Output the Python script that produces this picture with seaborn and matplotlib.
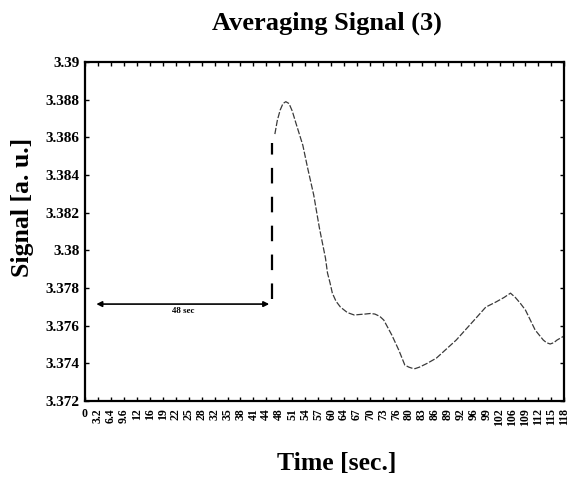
import matplotlib
matplotlib.use("Agg")
import matplotlib.pyplot as plt
import numpy as np
import pandas as pd
import seaborn as sns

# values
time_sec = [46.9, 47.5, 48.2, 48.9, 49.6, 50.4, 51.2, 52.1, 53.8, 55.0, 56.5,
            57.9, 59.4, 59.9, 60.5, 61.1, 62.0, 63.1, 64.8, 66.5, 68.0, 69.2,
            70.5, 71.6, 72.8, 73.8, 75.8, 77.5, 79.0, 80.0, 80.7, 81.5, 82.6,
            84.5, 86.8, 91.7, 96.6, 99.0, 101.5, 103.5, 105.1, 106.3, 107.5,
            108.8, 111.2, 113.2, 114.0, 114.9, 115.8, 116.6, 118.3]
signal_au = [3.38618, 3.38690, 3.38745, 3.38780, 3.38790, 3.38780, 3.38740,
             3.38676, 3.38559, 3.38437, 3.38294, 3.38119, 3.37959, 3.37880,
             3.37830, 3.37773, 3.37730, 3.37699, 3.37670, 3.37657, 3.37660,
             3.37662, 3.37665, 3.37662, 3.37650, 3.37630, 3.37550, 3.37471,
             3.37391, 3.37380, 3.37375, 3.37372, 3.37380, 3.37400, 3.37428,
             3.37524, 3.37641, 3.37699, 3.37726, 3.37750, 3.37773, 3.37750,
             3.37720, 3.37683, 3.37577, 3.37524, 3.37510, 3.37503, 3.37510,
             3.37524, 3.37545]

x_tick_labels = ["0", "3.2", "6.4", "9.6", "12", "16", "19", "22", "25", "28",
                 "32", "35", "38", "41", "44", "48", "51", "54", "57", "60",
                 "64", "67", "70", "73", "76", "80", "83", "86", "89", "92",
                 "96", "99", "102", "106", "109", "112", "115", "118"]
x_tick_step = 3.2
y_ticks = [3.372, 3.374, 3.376, 3.378, 3.38, 3.382, 3.384, 3.386, 3.388, 3.39]
y_tick_labels = ["3.372", "3.374", "3.376", "3.378", "3.38", "3.382", "3.384",
                 "3.386", "3.388", "3.39"]

# stimulus marker and the 48 sec delay arrow
onset_sec = 46.3
onset_range = (3.3774, 3.3857)
arrow_from, arrow_to, arrow_level = 2.8, 45.5, 3.37715

sns.set_style("ticks")
plt.rcParams["font.family"] = ["Liberation Serif", "DejaVu Serif"]
plt.rcParams["font.weight"] = "bold"
plt.rcParams["text.color"] = "black"
plt.rcParams["xtick.color"] = "black"
plt.rcParams["ytick.color"] = "black"
plt.rcParams["axes.edgecolor"] = "black"

df = pd.DataFrame({"time": time_sec, "signal": signal_au})

fig = plt.figure(figsize=(5.72, 4.78), dpi=100)
ax = fig.add_axes([0.1486, 0.161, 0.838, 0.709])

sns.lineplot(data=df, x="time", y="signal", ax=ax, color="#3a3a3a",
             linewidth=0.9, linestyle=(0, (5, 1.5)))

ax.vlines(onset_sec, *onset_range, colors="black", linewidth=1.6,
          linestyles=(0, (7, 6)))
ax.annotate("", xy=(arrow_to, arrow_level), xytext=(arrow_from, arrow_level),
            arrowprops=dict(arrowstyle="<|-|>", color="black", lw=1.2,
                            mutation_scale=8, shrinkA=0, shrinkB=0))
ax.text((arrow_from + arrow_to) / 2, arrow_level - 0.00038, "48 sec",
        fontsize=6.5, fontweight="bold", ha="center", va="center")

ticks_x = np.arange(len(x_tick_labels)) * x_tick_step
ax.set_xlim(0, 118.4)
ax.set_ylim(3.372, 3.39)
ax.set_xticks(ticks_x)
ax.set_xticklabels(x_tick_labels, rotation=90, fontsize=8.5, fontweight="bold")
ax.get_xticklabels()[0].set_rotation(0)
ax.set_yticks(y_ticks)
ax.set_yticklabels(y_tick_labels, fontsize=11, fontweight="bold")
ax.tick_params(direction="in", top=True, right=True, length=3, width=1, pad=4)
ax.tick_params(axis="x", pad=5)
for sp in ax.spines.values():
    sp.set_linewidth(1.6)

ax.set_xlabel("")
ax.set_ylabel("")
fig.text(0.572, 0.952, "Averaging Signal (3)", fontsize=19, fontweight="bold",
         ha="center", va="center")
fig.text(0.589, 0.031, "Time [sec.]", fontsize=18.5, fontweight="bold",
         ha="center", va="center")
fig.text(0.04, 0.565, "Signal [a. u.]", fontsize=18.5, fontweight="bold",
         ha="center", va="center", rotation=90)

fig.savefig("out.png", dpi=100)
